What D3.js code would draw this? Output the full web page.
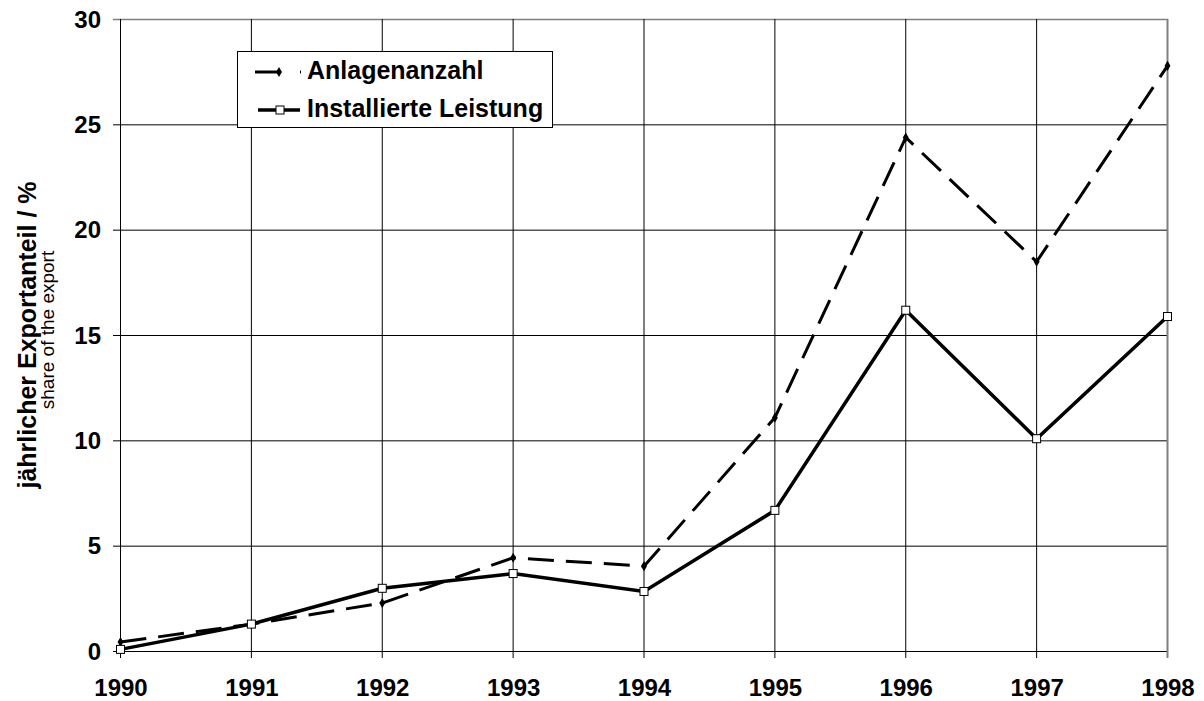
<!DOCTYPE html>
<html>
<head>
<meta charset="utf-8">
<script src="https://cdn.jsdelivr.net/npm/d3@7"></script>
<style>
body { margin: 0; background: #fff; }
text { font-family: "Liberation Sans", Arial, sans-serif; }
</style>
</head>
<body>
<script>
var years = [1990, 1991, 1992, 1993, 1994, 1995, 1996, 1997, 1998];
var anlagenanzahl = [0.45, 1.3, 2.3, 4.45, 4.05, 11.1, 24.4, 18.5, 27.8];
var installierteLeistung = [0.1, 1.3, 3.0, 3.7, 2.85, 6.7, 16.2, 10.1, 15.9];
var yTicks = [0, 5, 10, 15, 20, 25, 30];

var margin = {top: 19, right: 36, bottom: 50, left: 120},
    width = 1204 - margin.left - margin.right,
    height = 701 - margin.top - margin.bottom;

var svg = d3.select("body").append("svg")
    .attr("width", 1204)
    .attr("height", 701)
  .append("g")
    .attr("transform", "translate(" + margin.left + "," + margin.top + ")");

var x = d3.scaleLinear().domain([1990, 1998]).range([0.5, width - 0.5]);
var y = d3.scaleLinear().domain([0, 30]).range([height + 0.5, 0.5]);

// grid
svg.selectAll(".hgrid").data(yTicks).enter().append("line")
    .attr("x1", -7).attr("x2", width)
    .attr("y1", function(d) { return y(d); }).attr("y2", function(d) { return y(d); })
    .attr("stroke", function(d) { return d === 30 ? "#808080" : "#000"; })
    .attr("stroke-width", function(d) { return d === 30 ? 1.5 : 1; });

svg.selectAll(".vgrid").data(years).enter().append("line")
    .attr("y1", 0).attr("y2", height + 7)
    .attr("x1", function(d) { return x(d); }).attr("x2", function(d) { return x(d); })
    .attr("stroke", function(d) { return d === 1998 ? "#808080" : "#000"; })
    .attr("stroke-width", function(d) { return d === 1998 ? 2 : 1; });

var yAxis = d3.axisLeft(y).tickValues(yTicks).tickSize(0).tickPadding(19);
var yg = svg.append("g").call(yAxis);
yg.select(".domain").remove();
yg.selectAll("text").attr("font-size", "24px").attr("font-weight", "bold").attr("fill", "#000")
    .style("font-family", "'Liberation Sans', Arial, sans-serif");

var xAxis = d3.axisBottom(x).tickValues(years).tickFormat(d3.format("d")).tickSize(0).tickPadding(28);
var xg = svg.append("g").attr("transform", "translate(0," + height + ")").call(xAxis);
xg.select(".domain").remove();
xg.selectAll("text").attr("font-size", "24px").attr("font-weight", "bold").attr("fill", "#000")
    .style("font-family", "'Liberation Sans', Arial, sans-serif");

// y titles
svg.append("text")
    .attr("transform", "translate(" + (36 - margin.left) + "," + (335 - margin.top) + ") rotate(-90)")
    .attr("text-anchor", "middle")
    .attr("font-size", "25px").attr("font-weight", "bold")
    .text("jährlicher Exportanteil / %");
svg.append("text")
    .attr("transform", "translate(" + (54 - margin.left) + "," + (330 - margin.top) + ") rotate(-90)")
    .attr("text-anchor", "middle")
    .attr("font-size", "19px")
    .text("share of the export");

var line = d3.line()
    .x(function(d, i) { return x(years[i]); })
    .y(function(d) { return y(d); });

svg.append("path").datum(anlagenanzahl)
    .attr("d", line).attr("fill", "none")
    .attr("stroke", "#000").attr("stroke-width", 3)
    .attr("stroke-dasharray", "26,12");

svg.append("path").datum(installierteLeistung)
    .attr("d", line).attr("fill", "none")
    .attr("stroke", "#000").attr("stroke-width", 3.5);

var diamond = d3.symbol().type(d3.symbolDiamond).size(30);
svg.selectAll(".dia").data(anlagenanzahl).enter().append("path")
    .attr("d", diamond)
    .attr("transform", function(d, i) { return "translate(" + x(years[i]) + "," + y(d) + ")"; })
    .attr("fill", "#000");

svg.selectAll(".sq").data(installierteLeistung).enter().append("rect")
    .attr("x", function(d, i) { return x(years[i]) - 4; })
    .attr("y", function(d) { return y(d) - 4; })
    .attr("width", 8).attr("height", 8)
    .attr("fill", "#fff").attr("stroke", "#000").attr("stroke-width", 1);

// legend
var lg = svg.append("g").attr("transform", "translate(" + (237 - margin.left) + "," + (51 - margin.top) + ")");
lg.append("rect").attr("x", 0.5).attr("y", 0.5).attr("width", 315).attr("height", 76)
    .attr("fill", "#fff").attr("stroke", "#000").attr("stroke-width", 1);

lg.append("line").attr("x1", 18).attr("x2", 42).attr("y1", 21).attr("y2", 21)
    .attr("stroke", "#000").attr("stroke-width", 3);
lg.append("path").attr("d", diamond).attr("transform", "translate(42,21)").attr("fill", "#000");
lg.append("line").attr("x1", 63).attr("x2", 64).attr("y1", 21).attr("y2", 21)
    .attr("stroke", "#000").attr("stroke-width", 3);
lg.append("text").attr("x", 70).attr("y", 28).attr("font-size", "25px").attr("font-weight", "bold")
    .text("Anlagenanzahl");

lg.append("line").attr("x1", 21).attr("x2", 63).attr("y1", 59).attr("y2", 59)
    .attr("stroke", "#000").attr("stroke-width", 3.5);
lg.append("rect").attr("x", 39).attr("y", 55).attr("width", 8).attr("height", 8)
    .attr("fill", "#fff").attr("stroke", "#000");
lg.append("text").attr("x", 70).attr("y", 66).attr("font-size", "25px").attr("font-weight", "bold")
    .text("Installierte Leistung");
</script>
</body>
</html>
